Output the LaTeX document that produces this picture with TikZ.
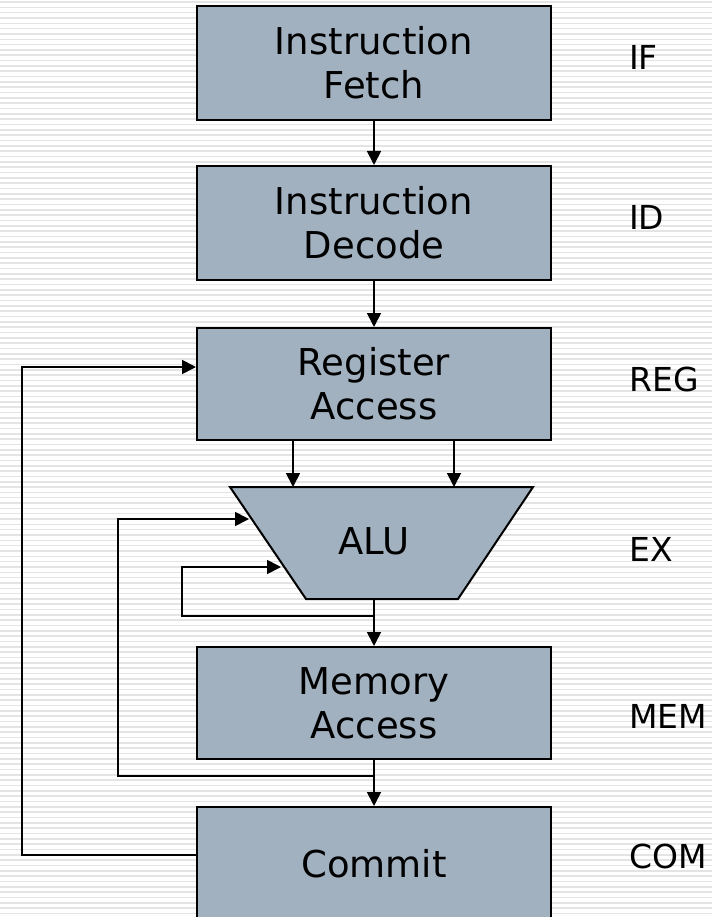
\documentclass[tikz,border=0pt]{standalone}
\usepackage{fontspec}
\setmainfont{DejaVu Sans}
\usetikzlibrary{arrows.meta,positioning,calc}

\definecolor{stagefill}{RGB}{162,177,192}
\definecolor{rulegray}{RGB}{228,228,228}

\begin{document}
\begin{tikzpicture}[
  x=1pt, y=-1pt,
  >={Triangle[length=14pt, width=14pt]},
  line width=1.8pt,
  stagebox/.style={draw, fill=stagefill, line width=2pt, minimum width=354pt, align=center,
                   font=\fontsize{37}{44}\selectfont},
  stagetag/.style={anchor=west, font=\fontsize{33}{40}\selectfont},
]

% frame and lined paper background
\clip (0,0) rectangle (712,917);
\fill[white] (0,0) rectangle (712,917);
\foreach \k in {0,...,172}
  \draw[rulegray, line width=1.6pt] (0,{2+\k*5.33}) -- (712,{2+\k*5.33});

% Pipeline stages
\node[stagebox, minimum height=114pt] (fetch)  at (374,63)  {Instruction\\Fetch};
\node[stagebox, minimum height=114pt] (decode) at (374,223) {Instruction\\Decode};
\node[stagebox, minimum height=112pt] (reg)    at (374,384) {Register\\Access};
\node[stagebox, minimum height=112pt] (mem)    at (374,703) {Memory\\Access};
\node[stagebox, minimum height=114pt] (commit) at (374,864) {Commit};

% ALU trapezoid
\coordinate (aluTL) at (230,487);
\coordinate (aluTR) at (533,487);
\coordinate (aluBR) at (458,599);
\coordinate (aluBL) at (306,599);
\draw[fill=stagefill, line width=2pt] (aluTL) -- (aluTR) -- (aluBR) -- (aluBL) -- cycle;
\node[font=\fontsize{37}{44}\selectfont] (alu) at (374,541) {ALU};

% Stage names
\node[stagetag] (tagIF)  at (625,57)  {IF};
\node[stagetag] (tagID)  at (625,217) {ID};
\node[stagetag] (tagREG) at (625,379) {REG};
\node[stagetag] (tagEX)  at (625,549) {EX};
\node[stagetag] (tagMEM) at (625,716) {MEM};
\node[stagetag] (tagCOM) at (625,856) {COM};

% Operand inputs and loop ends
\coordinate (opA)    at (293,487);
\coordinate (opB)    at (454,487);
\coordinate (aluout) at (374,599);
\coordinate (fwdMid) at (249,519);
\coordinate (fwdIn)  at (281,567);
\coordinate (tapEX)  at (374,616);
\coordinate (tapMEM) at (374,776);

% Forward path
\draw[->] (fetch)  -- (decode);
\draw[->] (decode) -- (reg);
\draw[->] (reg.south -| opA) -- (opA);
\draw[->] (reg.south -| opB) -- (opB);
\draw[->] (aluout) -- (mem.north);
\draw[->] (mem.south) -- (commit.north);

% Bypass loops
\draw[->] (tapEX) -- (182,616) -- (182,567) -- (fwdIn);
\draw[->] (tapMEM) -- (118,776) -- (118,519) -- (fwdMid);
\draw[->] (commit.west |- 0,855) -- (22,855) -- (22,367) -- (reg.west |- 0,367);

\end{tikzpicture}
\end{document}
